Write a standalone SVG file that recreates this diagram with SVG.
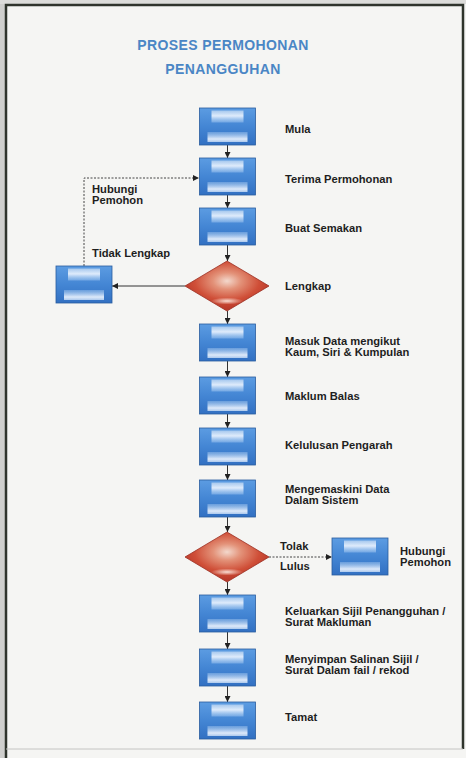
<svg xmlns="http://www.w3.org/2000/svg" width="466" height="758" viewBox="0 0 466 758">
<defs>
<style>
.lbl{font-family:"Liberation Sans",Arial,sans-serif;font-weight:bold;font-size:11.2px;fill:#1e1e1e}
.ttl{font-family:"Liberation Sans",Arial,sans-serif;font-weight:bold;font-size:14px;fill:#4a86c5;letter-spacing:0.4px}
.con{stroke:#333;stroke-width:1;fill:none}
.dash{stroke:#444;stroke-width:1;fill:none;stroke-dasharray:2 1.5}
</style>
<linearGradient id="gBox" x1="0" y1="0" x2="0" y2="1">
<stop offset="0" stop-color="#5c9ce2"/>
<stop offset="0.5" stop-color="#4486d4"/>
<stop offset="1" stop-color="#3270c2"/>
</linearGradient>
<linearGradient id="gTop" x1="0" y1="0" x2="0" y2="1">
<stop offset="0" stop-color="#ffffff" stop-opacity="0.45"/>
<stop offset="0.45" stop-color="#eef5ff" stop-opacity="0.9"/>
<stop offset="1" stop-color="#9cc4f0" stop-opacity="0.5"/>
</linearGradient>
<linearGradient id="gBot" x1="0" y1="0" x2="0" y2="1">
<stop offset="0" stop-color="#b8d6f6" stop-opacity="0.35"/>
<stop offset="0.7" stop-color="#f0f6ff" stop-opacity="0.9"/>
<stop offset="1" stop-color="#d5e6fa" stop-opacity="0.75"/>
</linearGradient>
<radialGradient id="gDia" cx="0.5" cy="0.4" r="0.55">
<stop offset="0" stop-color="#f3d8cc"/>
<stop offset="0.3" stop-color="#e39279"/>
<stop offset="0.7" stop-color="#cf4e37"/>
<stop offset="1" stop-color="#ba3a2b"/>
</radialGradient>
<radialGradient id="gDiaLow" cx="0.5" cy="0.5" r="0.5">
<stop offset="0" stop-color="#fdeee6" stop-opacity="0.9"/>
<stop offset="1" stop-color="#fdeee6" stop-opacity="0"/>
</radialGradient>
<g id="box">
<rect x="0" y="0" width="56" height="37" fill="url(#gBox)" stroke="#2a5c9e" stroke-width="0.8"/>
<rect x="12" y="2.5" width="32" height="12" fill="url(#gTop)"/>
<rect x="8" y="24" width="40" height="10" fill="url(#gBot)"/>
</g>
<g id="dia">
<polygon points="0,-25 42,0 0,25 -42,0" fill="url(#gDia)" stroke="#9c2e22" stroke-width="0.8"/>
<ellipse cx="0" cy="15" rx="16" ry="3.5" fill="url(#gDiaLow)"/>
</g>
<marker id="arr" viewBox="0 0 8 8" refX="8" refY="4" markerWidth="6" markerHeight="6" orient="auto" markerUnits="userSpaceOnUse">
<path d="M0,0 L8,4 L0,8 z" fill="#222"/>
</marker>
</defs>
<rect x="0" y="0" width="466" height="758" fill="#f5f5f3"/>
<rect x="0" y="0" width="5" height="758" fill="#cfcfcd"/>
<rect x="0" y="0" width="466" height="4" fill="#dcdcda"/>
<path d="M6,758 L6,5 L463,5 L463,749" fill="none" stroke="#2f342c" stroke-width="2.5"/>
<line x1="6" y1="749" x2="463" y2="749" stroke="#c4c4c2" stroke-width="1"/>

<g id="title">
<text class="ttl" x="223" y="50" text-anchor="middle">PROSES PERMOHONAN</text>
<text class="ttl" x="223" y="74" text-anchor="middle">PENANGGUHAN</text>
</g>

<g id="connectors">
<line class="con" x1="227.5" y1="145" x2="227.5" y2="158" marker-end="url(#arr)"/>
<line class="con" x1="227.5" y1="195" x2="227.5" y2="208" marker-end="url(#arr)"/>
<line class="con" x1="227.5" y1="245" x2="227.5" y2="261" marker-end="url(#arr)"/>
<line class="con" x1="227.5" y1="311" x2="227.5" y2="324" marker-end="url(#arr)"/>
<line class="con" x1="227.5" y1="361" x2="227.5" y2="377" marker-end="url(#arr)"/>
<line class="con" x1="227.5" y1="414" x2="227.5" y2="428" marker-end="url(#arr)"/>
<line class="con" x1="227.5" y1="465" x2="227.5" y2="480" marker-end="url(#arr)"/>
<line class="con" x1="227.5" y1="517" x2="227.5" y2="532" marker-end="url(#arr)"/>
<line class="con" x1="227.5" y1="582" x2="227.5" y2="595" marker-end="url(#arr)"/>
<line class="con" x1="227.5" y1="632" x2="227.5" y2="649" marker-end="url(#arr)"/>
<line class="con" x1="227.5" y1="686" x2="227.5" y2="702" marker-end="url(#arr)"/>
<line class="con" x1="185" y1="286" x2="112" y2="286" marker-end="url(#arr)"/>
<polyline class="dash" points="84,266 84,178 199,178" marker-end="url(#arr)"/>
<line class="dash" x1="269" y1="557" x2="332" y2="557" marker-end="url(#arr)"/>
</g>

<g id="n-mula"><use href="#box" x="199.5" y="108"/><text class="lbl" x="285" y="133">Mula</text></g>
<g id="n-terima"><use href="#box" x="199.5" y="158"/><text class="lbl" x="285" y="183">Terima Permohonan</text></g>
<g id="n-buat"><use href="#box" x="199.5" y="208"/><text class="lbl" x="285" y="232">Buat Semakan</text></g>
<g id="n-lengkap"><use href="#dia" x="227" y="286"/><text class="lbl" x="285" y="290">Lengkap</text></g>
<g id="n-tidak"><use href="#box" x="56" y="266"/><text class="lbl" x="92" y="257">Tidak Lengkap</text></g>
<g id="n-hubungi1"><text class="lbl" x="92" y="193">Hubungi</text><text class="lbl" x="92" y="204">Pemohon</text></g>
<g id="n-masuk"><use href="#box" x="199.5" y="324"/><text class="lbl" x="285" y="345">Masuk Data mengikut</text><text class="lbl" x="285" y="356">Kaum, Siri &amp; Kumpulan</text></g>
<g id="n-maklum"><use href="#box" x="199.5" y="377"/><text class="lbl" x="285" y="400">Maklum Balas</text></g>
<g id="n-kelulusan"><use href="#box" x="199.5" y="428"/><text class="lbl" x="285" y="449">Kelulusan Pengarah</text></g>
<g id="n-kemaskini"><use href="#box" x="199.5" y="480"/><text class="lbl" x="285" y="493">Mengemaskini Data</text><text class="lbl" x="285" y="504">Dalam Sistem</text></g>
<g id="n-keputusan"><use href="#dia" x="227" y="557"/><text class="lbl" x="280" y="550">Tolak</text><text class="lbl" x="280" y="570">Lulus</text></g>
<g id="n-hubungi2"><use href="#box" x="332" y="538"/><text class="lbl" x="400" y="555">Hubungi</text><text class="lbl" x="400" y="566">Pemohon</text></g>
<g id="n-keluarkan"><use href="#box" x="199.5" y="595"/><text class="lbl" x="285" y="615">Keluarkan Sijil Penangguhan /</text><text class="lbl" x="285" y="626">Surat Makluman</text></g>
<g id="n-menyimpan"><use href="#box" x="199.5" y="649"/><text class="lbl" x="285" y="663">Menyimpan Salinan Sijil /</text><text class="lbl" x="285" y="674">Surat Dalam fail / rekod</text></g>
<g id="n-tamat"><use href="#box" x="199.5" y="702"/><text class="lbl" x="285" y="721">Tamat</text></g>
</svg>
